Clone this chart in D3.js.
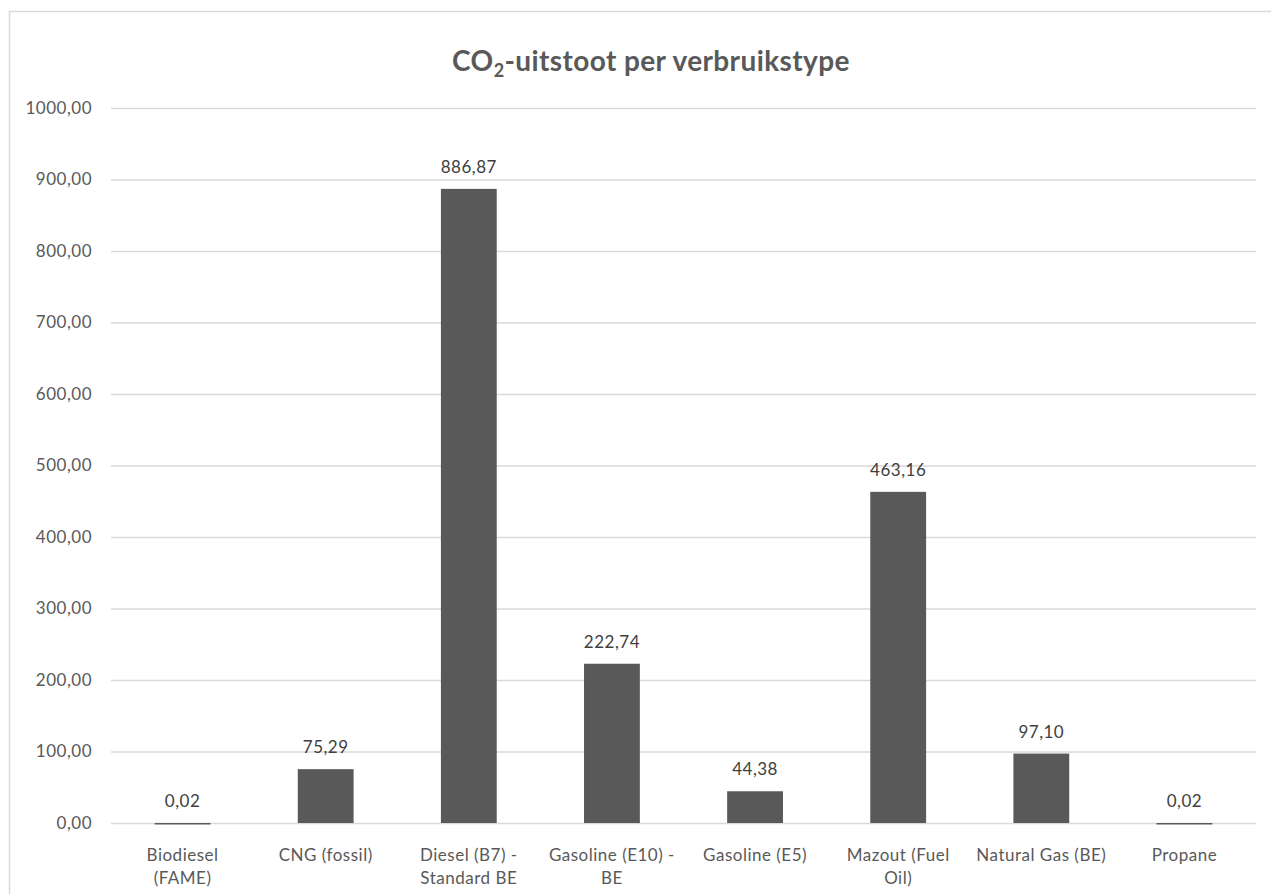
<!DOCTYPE html>
<html>
<head>
<meta charset="utf-8">
<script src="https://cdn.jsdelivr.net/npm/d3@7"></script>
<style>
  body { margin: 0; background: #fff; }
  svg { display: block; font-family: Lato, "Open Sans", sans-serif; }
</style>
</head>
<body>
<svg id="chart" width="1271" height="894"></svg>
<script>
// CO2 emissions per fuel type
const categories = [
  ["Biodiesel", "(FAME)"],
  ["CNG (fossil)"],
  ["Diesel (B7) -", "Standard BE"],
  ["Gasoline (E10) -", "BE"],
  ["Gasoline (E5)"],
  ["Mazout (Fuel", "Oil)"],
  ["Natural Gas (BE)"],
  ["Propane"]
];
const values = [0.02, 75.29, 886.87, 222.74, 44.38, 463.16, 97.10, 0.02];
const yTicks = [0, 100, 200, 300, 400, 500, 600, 700, 800, 900, 1000];

const svg = d3.select("#chart");
const margin = { left: 111, right: 1256, top: 108, bottom: 823 };
const grey = "#595959";
const fs = 17;
const ls = 0.5;
const fmt = v => d3.format(".2f")(v).replace(".", ",");

// chart frame
svg.append("rect")
  .attr("x", 9.5).attr("y", 11.5)
  .attr("width", 1300).attr("height", 1000)
  .attr("fill", "none").attr("stroke", "#d9d9d9").attr("stroke-width", 1.5);

const x = d3.scaleBand()
  .domain(d3.range(categories.length))
  .range([margin.left, margin.right])
  .paddingInner(0.61).paddingOuter(0.305);

const y = d3.scaleLinear().domain([0, 1000]).range([margin.bottom, margin.top]);

// gridlines and y labels
const yAxis = d3.axisLeft(y).tickValues(yTicks).tickFormat(fmt)
  .tickSize(-(margin.right - margin.left)).tickPadding(19);
const gy = svg.append("g").attr("transform", `translate(${margin.left},0)`).call(yAxis);
gy.select(".domain").remove();
gy.selectAll(".tick line").attr("stroke", "#d9d9d9").attr("stroke-width", 1.3);
gy.selectAll(".tick text").attr("fill", grey).attr("font-size", fs)
  .attr("letter-spacing", ls)
  .attr("font-family", "Lato, sans-serif");

// bars
svg.append("g").selectAll("rect").data(values).join("rect")
  .attr("x", (d, i) => x(i))
  .attr("width", x.bandwidth())
  .attr("y", d => y(d))
  .attr("height", d => Math.max(1.5, y(0) - y(d)))
  .attr("fill", grey);

// value labels
svg.append("g").selectAll("text").data(values).join("text")
  .attr("x", (d, i) => x(i) + x.bandwidth() / 2)
  .attr("y", d => y(d) - 16)
  .attr("text-anchor", "middle")
  .attr("fill", "#404040")
  .attr("font-size", fs)
  .attr("letter-spacing", ls)
  .text(d => fmt(d));

// category labels
const xl = svg.append("g");
categories.forEach((lines, i) => {
  const t = xl.append("text")
    .attr("x", x(i) + x.bandwidth() / 2)
    .attr("y", 861)
    .attr("text-anchor", "middle")
    .attr("fill", grey)
    .attr("font-size", fs)
    .attr("letter-spacing", ls);
  lines.forEach((ln, j) => {
    t.append("tspan").attr("x", x(i) + x.bandwidth() / 2)
      .attr("dy", j === 0 ? 0 : 23).text(ln);
  });
});

// title with subscript
const title = svg.append("text")
  .attr("x", 651).attr("y", 71)
  .attr("text-anchor", "middle")
  .attr("fill", grey)
  .attr("font-size", 28)
  .attr("letter-spacing", 0.4)
  .attr("font-weight", "bold");
title.append("tspan").text("CO");
title.append("tspan").attr("font-size", 18).attr("dy", 6).text("2");
title.append("tspan").attr("dy", -6).text("-uitstoot per verbruikstype");
</script>
</body>
</html>
